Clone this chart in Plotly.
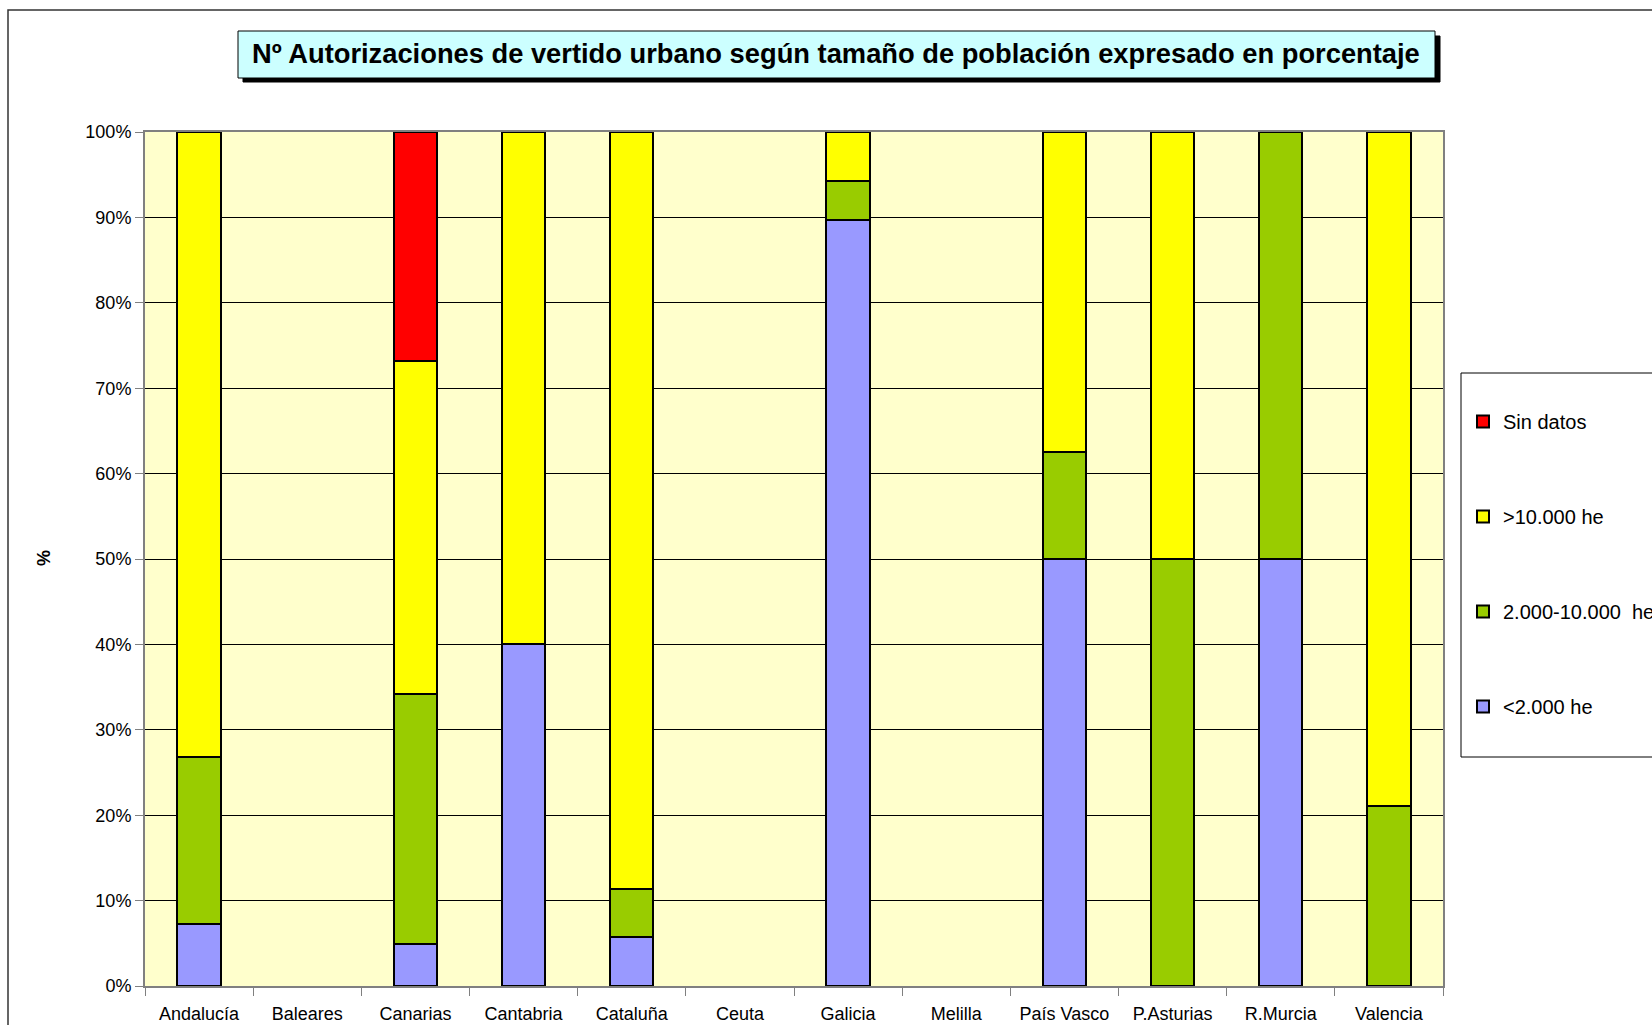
import plotly.graph_objects as go

# Comunidades autónomas (x categories)
regions = ["Andalucía", "Baleares", "Canarias", "Cantabria", "Cataluña", "Ceuta",
           "Galicia", "Melilla", "País Vasco", "P.Asturias", "R.Murcia", "Valencia"]

# % of authorisations by population size (None = no bar)
menos_2000 = [7.3, None, 4.9, 40.0, 5.7, None, 89.7, None, 50.0, None, 50.0, None]
entre_2000_10000 = [19.5, None, 29.3, None, 5.7, None, 4.6, None, 12.5, 50.0, 50.0, 21.1]
mas_10000 = [73.2, None, 39.0, 60.0, 88.6, None, 5.7, None, 37.5, 50.0, None, 78.9]
sin_datos = [None, None, 26.8, None, None, None, None, None, None, None, None, None]

y_ticks = [0, 10, 20, 30, 40, 50, 60, 70, 80, 90, 100]
y_tick_labels = ["0%", "10%", "20%", "30%", "40%", "50%", "60%", "70%", "80%", "90%", "100%"]

# series name -> (values, colour), bottom of the stack first
series = [
    ("<2.000 he", menos_2000, "#9999FF"),
    ("2.000-10.000  he", entre_2000_10000, "#99CC00"),
    (">10.000 he", mas_10000, "#FFFF00"),
    ("Sin datos", sin_datos, "#FF0000"),
]

W, H = 1652, 1025
L, R, T, B = 145, 1443, 132, 986  # plot area in pixels


def px_x(p):
    return (p - L) / (R - L)


def px_y(p):
    return (B - p) / (B - T)


FONT = "Liberation Sans, Arial, sans-serif"

fig = go.Figure()
for i, (name, values, colour) in enumerate(series):
    fig.add_trace(go.Bar(
        x=regions, y=values, name=name, width=0.4,
        legendgroup=str(i), legendrank=len(series) - i,  # top of stack first in legend
        marker=dict(color=colour, line=dict(color="black", width=2)),
    ))

shapes = [
    # outer chart frame (only left / top edges visible)
    dict(type="rect", xref="paper", yref="paper",
         x0=px_x(8), x1=px_x(W + 20), y0=px_y(H + 20), y1=px_y(10),
         line=dict(color="#333333", width=1.5), layer="below"),
    # title shadow + box
    dict(type="rect", xref="paper", yref="paper",
         x0=px_x(243), x1=px_x(1440), y0=px_y(82), y1=px_y(36),
         fillcolor="black", line=dict(color="black", width=1)),
    dict(type="rect", xref="paper", yref="paper",
         x0=px_x(238), x1=px_x(1435), y0=px_y(78), y1=px_y(31),
         fillcolor="#CCFFFF", line=dict(color="black", width=1)),
    # legend box
    dict(type="rect", xref="paper", yref="paper",
         x0=px_x(1461), x1=px_x(W + 20), y0=px_y(757), y1=px_y(373),
         fillcolor="white", line=dict(color="black", width=1)),
]

annotations = [
    dict(text="<b>Nº Autorizaciones de vertido urbano según tamaño de población expresado en porcentaje</b>",
         xref="paper", yref="paper", x=px_x(836), y=px_y(54), showarrow=False,
         xanchor="center", yanchor="middle", font=dict(size=27.3, color="black", family=FONT)),
    dict(text="<b>%</b>", xref="paper", yref="paper", x=px_x(44), y=px_y(558),
         xanchor="center", yanchor="middle",
         showarrow=False, textangle=-90, font=dict(size=18, color="black", family=FONT)),
]

fig.update_layout(
    width=W, height=H,
    margin=dict(l=L, r=W - R, t=T, b=H - B, autoexpand=False),
    barmode="stack",
    paper_bgcolor="white",
    plot_bgcolor="#FFFFCC",
    font=dict(family=FONT, size=18, color="black"),
    shapes=shapes,
    annotations=annotations,
    legend=dict(
        x=px_x(1463), y=px_y(402), xanchor="left", yanchor="top",
        traceorder="grouped", tracegroupgap=66,
        bgcolor="rgba(0,0,0,0)", borderwidth=0,
        font=dict(size=20, family=FONT),
    ),
    showlegend=True,
)

fig.update_xaxes(
    showline=True, linecolor="#808080", linewidth=2, mirror=True,
    ticks="outside", tickson="boundaries", ticklen=8, tickcolor="#808080",
    ticklabelstandoff=10,
    showgrid=False, tickfont=dict(size=18),
)
fig.update_yaxes(
    range=[0, 100], tickvals=y_ticks, ticktext=y_tick_labels,
    showline=True, linecolor="#808080", linewidth=2, mirror=True,
    ticks="outside", ticklen=8, tickcolor="#808080",
    showgrid=True, gridcolor="black", gridwidth=1, zeroline=False,
    tickfont=dict(size=18),
)

# drop the browser's default body margin so the figure sits at the page corner
fig.write_html("out.html", config={"displayModeBar": False},
               post_script="document.body.style.margin='0';")
